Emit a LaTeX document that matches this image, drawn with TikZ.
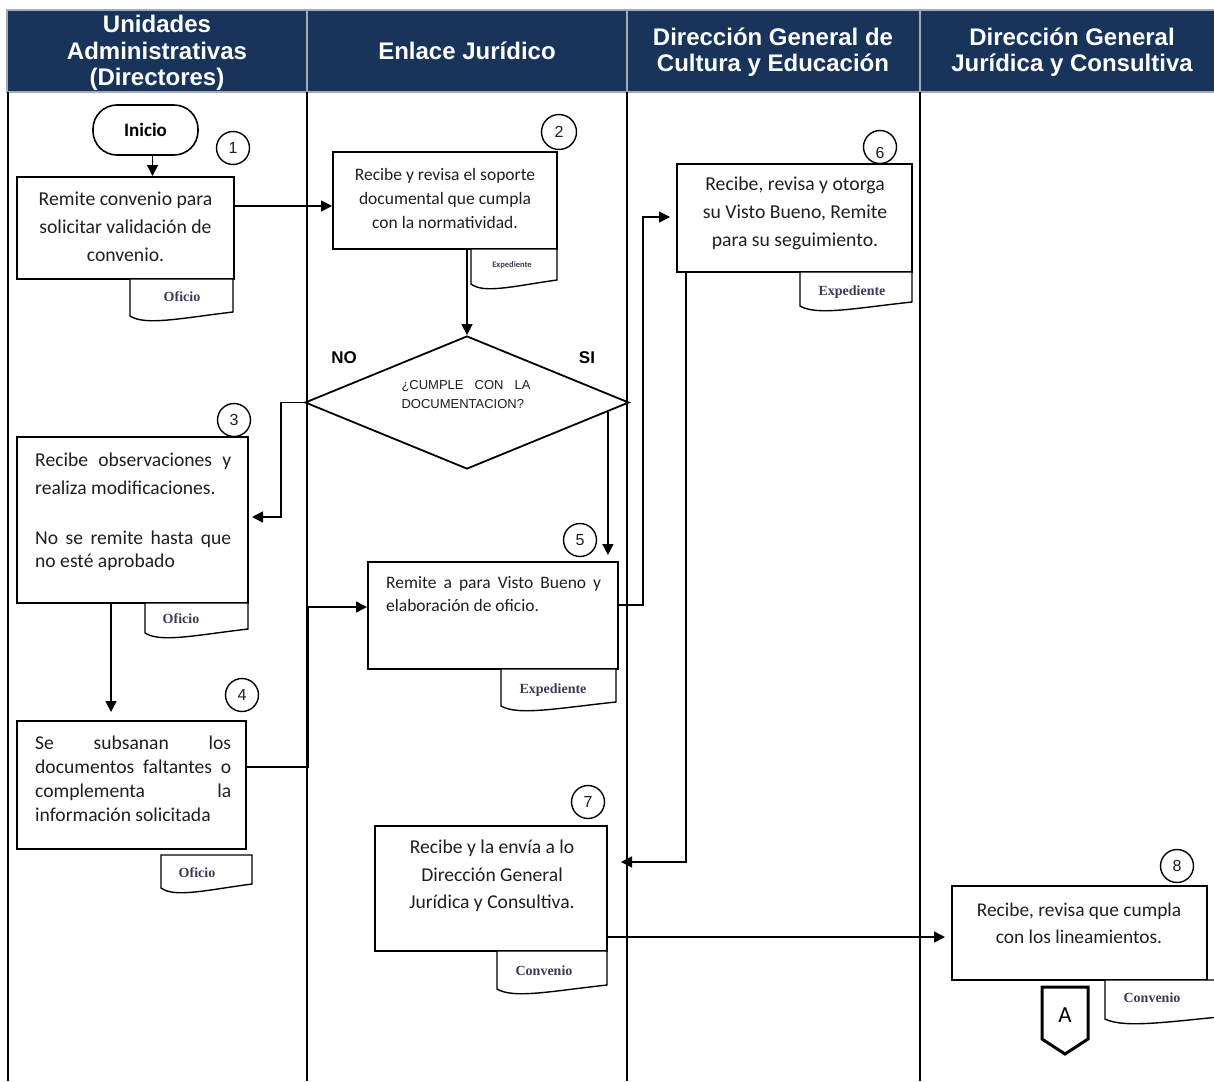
\documentclass[tikz,border=0pt]{standalone}
\usepackage{fontspec}
\setmainfont{Carlito}
\newfontfamily\headfont{Liberation Sans}
\newfontfamily\docfont{Liberation Serif}
\usetikzlibrary{arrows.meta,shapes.geometric,calc}
\definecolor{navy}{RGB}{24,52,91}
\definecolor{hdline}{RGB}{165,170,178}
\definecolor{txt}{RGB}{32,30,30}
\definecolor{doctxt}{RGB}{58,58,88}
% a justified line of given width
\newcommand{\jline}[2]{\hbox to #1{#2}}
% document symbol: name, x1, top, x2, bottom, label x, label y, label
\newcommand{\docsym}[8]{%
  \draw[docline] (#2,#3) -- (#2,#5)
    .. controls ({#2+0.15*(#4-#2)},{#5+10}) and ({#2+0.5*(#4-#2)},{#5+2}) .. (#4,{#5-4})
    -- (#4,#3) -- cycle;
  \node[doclabel] (#1) at (#6,#7) {#8};}
\begin{document}
\begin{tikzpicture}[x=1pt,y=-1pt,
  lane/.style={draw=black,line width=1.3pt},
  box/.style={draw=black,line width=2pt,fill=white,inner sep=0pt},
  conn/.style={draw=black,line width=1.5pt},
  arr/.style={conn,-{Triangle[length=11pt,width=11pt]}},
  num/.style={circle,draw=black,line width=1.4pt,minimum size=33pt,inner sep=0pt,
    font=\headfont\fontsize{16}{16}\selectfont,text=txt},
  hd/.style={text=white,font=\headfont\bfseries\fontsize{24}{26.5}\selectfont,align=center,inner sep=0pt},
  btext/.style={text=txt,inner sep=0pt},
  docline/.style={draw=black,line width=1.4pt,fill=white},
  doclabel/.style={text=doctxt,inner sep=0pt,font=\docfont\bfseries\fontsize{14}{14}\selectfont},
  yesno/.style={text=black,inner sep=0pt,font=\headfont\bfseries\fontsize{17}{17}\selectfont},
]
\useasboundingbox (0,0) rectangle (1214,1081);
\clip (0,0) rectangle (1214,1081);
\fill[white] (0,0) rectangle (1214,1081);

% ---- lane headers ----
\fill[navy] (7,10) rectangle (1220,92);
\draw[hdline,line width=1.3pt] (7,10) rectangle (1220,92);
\foreach \xx in {307,627,920} \draw[hdline,line width=1.3pt] (\xx,10) -- (\xx,92);
\node[hd] (h1) at (157,53) {Unidades\\Administrativas\\(Directores)};
\node[hd] (h2) at (467,51) {Enlace Jurídico};
\node[hd] (h3) at (773,52) {Dirección General de\\Cultura y Educación};
\node[hd] (h4) at (1072,52) {Dirección General\\Jurídica y Consultiva};

% ---- lanes ----
\foreach \xx in {8,307,627,920} \draw[lane] (\xx,92) -- (\xx,1081);

% ---- step numbers ----
\node[num] (n1) at (233,148) {1};
\node[num,minimum size=35pt] (n2) at (559,132) {2};
\node[num] (n3) at (234,420) {3};
\node[num] (n4) at (242,695) {4};
\node[num] (n5) at (580,540) {5};
\node[num] (n6) at (880,147) {};
\node[num] (n7) at (588,802) {7};
\node[num] (n8) at (1177,866) {8};

% ---- start ----
\node[draw=black,line width=1.6pt,fill=white,rounded corners=24pt,minimum width=105pt,
  minimum height=50pt,inner sep=0pt,text=black,font=\bfseries\fontsize{19}{19}\selectfont]
  (inicio) at (145.5,130) {Inicio};

% ---- process boxes ----
\node[box,minimum width=217pt,minimum height=102pt] (b1) at (125.5,228) {};
\node[box,minimum width=224pt,minimum height=97pt] (b2) at (445,200.5) {};
\node[box,minimum width=231pt,minimum height=166pt] (b3) at (132.5,520) {};
\node[box,minimum width=229pt,minimum height=128pt] (b4) at (131.5,785) {};
\node[box,minimum width=250pt,minimum height=107pt] (b5) at (493,615.5) {};
\node[box,minimum width=235pt,minimum height=108pt] (b6) at (794.5,218) {};
\node[box,minimum width=232pt,minimum height=125pt] (b7) at (491,888.5) {};
\node[box,minimum width=255pt,minimum height=94pt] (b8) at (1079.5,933) {};

\node[text=txt,inner sep=0pt,font=\headfont\fontsize{16}{16}\selectfont] (n6t) at (880,153) {6};

% ---- decision ----
\node[diamond,draw=black,line width=1.8pt,fill=white,minimum width=324pt,minimum height=133pt,
  inner sep=0pt] (dec) at (467,402.5) {};
\node[btext,align=left,font=\headfont\fontsize{13}{19}\selectfont] (dect) at (466,395)
  {\jline{129pt}{¿CUMPLE CON LA}\\DOCUMENTACION?};
\node[yesno] (no) at (344,358) {NO};
\node[yesno] (si) at (587,358) {SI};

% ---- box texts ----
\node[btext,align=center,font=\fontsize{19.7}{28}\selectfont] (t1) at (125.5,227)
  {Remite convenio para\\solicitar validación de\\convenio.};
\node[btext,align=center,font=\fontsize{17.5}{24}\selectfont] (t2) at (445,198)
  {Recibe y revisa el soporte\\documental que cumpla\\con la normatividad.};
\node[btext,align=left,anchor=west,font=\fontsize{19.6}{27.5}\selectfont] (t3a) at (35,474)
  {\jline{196pt}{Recibe observaciones y}\\realiza modificaciones.};
\node[btext,align=left,anchor=west,font=\fontsize{19.6}{23}\selectfont] (t3b) at (35,551)
  {\jline{196pt}{No se remite hasta que}\\no esté aprobado};
\node[btext,align=left,anchor=west,font=\fontsize{19.6}{24}\selectfont] (t4) at (35,779)
  {\jline{196pt}{Se subsanan los}\\\jline{196pt}{documentos faltantes o}\\
   \jline{196pt}{complementa la}\\información solicitada};
\node[btext,align=left,anchor=west,font=\fontsize{17.5}{23}\selectfont] (t5) at (386,594)
  {\jline{215pt}{Remite a para Visto Bueno y}\\elaboración de oficio.};
\node[btext,align=center,font=\fontsize{19.7}{28}\selectfont] (t6) at (795,213)
  {Recibe, revisa y otorga\\su Visto Bueno, Remite\\para su seguimiento.};
\node[btext,align=center,font=\fontsize{19.6}{27.5}\selectfont] (t7) at (492,876)
  {Recibe y la envía a lo\\Dirección General\\Jurídica y Consultiva.};
\node[btext,align=center,font=\fontsize{19.4}{27}\selectfont] (t8) at (1079,923)
  {Recibe, revisa que cumpla\\con los lineamientos.};

% ---- documents ----
\docsym{o1}{130}{279}{233}{316}{182}{297}{Oficio}
\docsym{e2}{471}{249}{557}{284}{512}{265}{{\normalfont\bfseries\fontsize{8.5}{8.5}\selectfont Expediente}}
\docsym{o3}{145}{603}{248}{633}{181}{619}{Oficio}
\docsym{o4}{161}{855}{252}{888}{197}{873}{Oficio}
\docsym{e5}{501}{669}{616}{706}{553}{690}{Expediente}
\docsym{e6}{800}{272}{912}{306}{852}{292}{Expediente}
\docsym{c7}{497}{951}{607}{989}{544}{971}{Convenio}
\docsym{c8}{1105}{980}{1240}{1019}{1152}{998}{Convenio}

% ---- off-page connector ----
\draw[black,line width=3pt,line join=miter,fill=white] (1042,987) -- (1088,987) -- (1088,1039)
  -- (1065,1054) -- (1042,1039) -- cycle;
\node[text=black,inner sep=0pt,font=\fontsize{23}{23}\selectfont] (conA) at (1065,1015) {A};

% ---- flow ----
\coordinate (sistart) at ($(dec.east)!0.135!(dec.south)$);
\draw[arr] ([xshift=7pt]inicio.south) -- ([xshift=7pt]inicio.south |- b1.north);
\draw[arr] (b1.east |- 0,206) -- (b2.west |- 0,206);
\draw[arr] (b2.south -| dec.north) -- (dec.north);
\draw[arr,shorten >=3pt] (dec.west) -- (281,402.5) |- (b3.east |- 0,517);
\draw[arr] (sistart) -- (sistart |- 0,555);
\draw[arr,shorten >=8pt] (b3.south -| 111,0) -- (b4.north -| 111,0);
\draw[arr] (b4.east |- 0,767) -- (308,767) |- (b5.west |- 0,607);
\draw[arr,shorten >=6pt] (b5.east |- 0,605) -| (643,217) -- (b6.west |- 0,217);
\draw[arr,shorten >=13pt] (b6.south -| 686,0) -- (686,862) -- (b7.east |- 0,862);
\draw[arr,shorten >=6pt] (b7.east |- 0,937) -- (b8.west |- 0,937);
\end{tikzpicture}
\end{document}
